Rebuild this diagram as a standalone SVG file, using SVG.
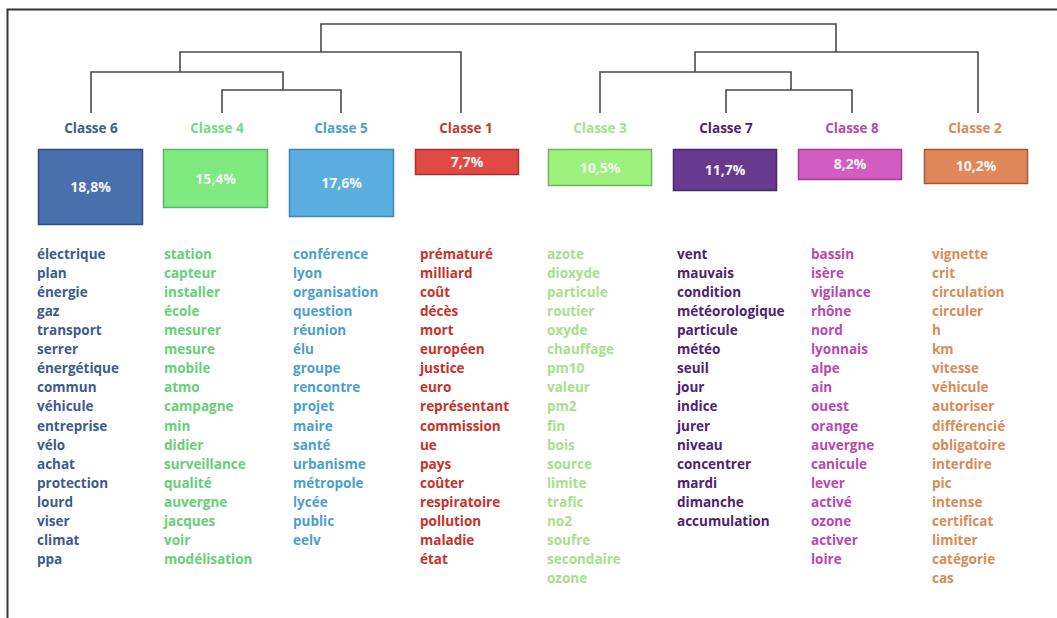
<svg xmlns="http://www.w3.org/2000/svg" width="1057" height="618" viewBox="0 0 1057 618">
<style>
.lbl{font-family:"Open Sans","Liberation Sans",sans-serif;font-weight:700;font-size:13.5px;text-anchor:middle}
.pct{font-family:"Open Sans","Liberation Sans",sans-serif;font-weight:700;font-size:14px;text-anchor:middle;fill:#f4f4f4}
.w{font-family:"Open Sans","Liberation Sans",sans-serif;font-weight:700;font-size:13.5px}
.ln{fill:none;stroke:#4a4a4a;stroke-width:1.6}
.box{stroke-width:1.5}
</style>
<rect width="1057" height="618" fill="#ffffff"/>
<path d="M7.5,618 V9.5 H1057" fill="none" stroke="#333" stroke-width="2"/>
<g id="connectors" class="ln">
<path d="M321,52 V24 H836 V52"/>
<path d="M180,72 V52 H461 V113"/>
<path d="M91,113 V72 H283 V90"/>
<path d="M222,113 V90 H341 V113"/>
<path d="M695,72 V52 H978 V113"/>
<path d="M600,113 V72 H791 V90"/>
<path d="M726,113 V90 H852 V113"/>
</g>
<g id="classe6">
<text class="lbl" x="91" y="133" fill="#3f5b8e">Classe 6</text>
<rect class="box" x="38.5" y="149.5" width="104" height="75" fill="#4a6fae" stroke="#2f4d7e"/>
<text class="pct" x="90.5" y="192">18,8%</text>
<text class="w" fill="#3e5a8f"><tspan x="37" y="259">électrique</tspan><tspan x="37" dy="19.06">plan</tspan><tspan x="37" dy="19.06">énergie</tspan><tspan x="37" dy="19.06">gaz</tspan><tspan x="37" dy="19.06">transport</tspan><tspan x="37" dy="19.06">serrer</tspan><tspan x="37" dy="19.06">énergétique</tspan><tspan x="37" dy="19.06">commun</tspan><tspan x="37" dy="19.06">véhicule</tspan><tspan x="37" dy="19.06">entreprise</tspan><tspan x="37" dy="19.06">vélo</tspan><tspan x="37" dy="19.06">achat</tspan><tspan x="37" dy="19.06">protection</tspan><tspan x="37" dy="19.06">lourd</tspan><tspan x="37" dy="19.06">viser</tspan><tspan x="37" dy="19.06">climat</tspan><tspan x="37" dy="19.06">ppa</tspan></text>
</g>
<g id="classe4">
<text class="lbl" x="217" y="133" fill="#6fdc88">Classe 4</text>
<rect class="box" x="163.5" y="149.5" width="104" height="58" fill="#7eea7f" stroke="#5cb565"/>
<text class="pct" x="215.5" y="184">15,4%</text>
<text class="w" fill="#66cf78"><tspan x="164" y="259">station</tspan><tspan x="164" dy="19.06">capteur</tspan><tspan x="164" dy="19.06">installer</tspan><tspan x="164" dy="19.06">école</tspan><tspan x="164" dy="19.06">mesurer</tspan><tspan x="164" dy="19.06">mesure</tspan><tspan x="164" dy="19.06">mobile</tspan><tspan x="164" dy="19.06">atmo</tspan><tspan x="164" dy="19.06">campagne</tspan><tspan x="164" dy="19.06">min</tspan><tspan x="164" dy="19.06">didier</tspan><tspan x="164" dy="19.06">surveillance</tspan><tspan x="164" dy="19.06">qualité</tspan><tspan x="164" dy="19.06">auvergne</tspan><tspan x="164" dy="19.06">jacques</tspan><tspan x="164" dy="19.06">voir</tspan><tspan x="164" dy="19.06">modélisation</tspan></text>
</g>
<g id="classe5">
<text class="lbl" x="341" y="133" fill="#4aa0cf">Classe 5</text>
<rect class="box" x="289.5" y="149.5" width="104" height="67" fill="#5aaee0" stroke="#3f86b5"/>
<text class="pct" x="341.5" y="188">17,6%</text>
<text class="w" fill="#4a9fcd"><tspan x="293" y="259">conférence</tspan><tspan x="293" dy="19.06">lyon</tspan><tspan x="293" dy="19.06">organisation</tspan><tspan x="293" dy="19.06">question</tspan><tspan x="293" dy="19.06">réunion</tspan><tspan x="293" dy="19.06">élu</tspan><tspan x="293" dy="19.06">groupe</tspan><tspan x="293" dy="19.06">rencontre</tspan><tspan x="293" dy="19.06">projet</tspan><tspan x="293" dy="19.06">maire</tspan><tspan x="293" dy="19.06">santé</tspan><tspan x="293" dy="19.06">urbanisme</tspan><tspan x="293" dy="19.06">métropole</tspan><tspan x="293" dy="19.06">lycée</tspan><tspan x="293" dy="19.06">public</tspan><tspan x="293" dy="19.06">eelv</tspan></text>
</g>
<g id="classe1">
<text class="lbl" x="466" y="133" fill="#c0392f">Classe 1</text>
<rect class="box" x="415.5" y="149.5" width="103" height="25" fill="#e04a45" stroke="#a8322e"/>
<text class="pct" x="467" y="167">7,7%</text>
<text class="w" fill="#c8302a"><tspan x="420" y="259">prématuré</tspan><tspan x="420" dy="19.06">milliard</tspan><tspan x="420" dy="19.06">coût</tspan><tspan x="420" dy="19.06">décès</tspan><tspan x="420" dy="19.06">mort</tspan><tspan x="420" dy="19.06">européen</tspan><tspan x="420" dy="19.06">justice</tspan><tspan x="420" dy="19.06">euro</tspan><tspan x="420" dy="19.06">représentant</tspan><tspan x="420" dy="19.06">commission</tspan><tspan x="420" dy="19.06">ue</tspan><tspan x="420" dy="19.06">pays</tspan><tspan x="420" dy="19.06">coûter</tspan><tspan x="420" dy="19.06">respiratoire</tspan><tspan x="420" dy="19.06">pollution</tspan><tspan x="420" dy="19.06">maladie</tspan><tspan x="420" dy="19.06">état</tspan></text>
</g>
<g id="classe3">
<text class="lbl" x="600" y="133" fill="#a3e38a">Classe 3</text>
<rect class="box" x="548.5" y="149.5" width="103" height="36" fill="#9df27d" stroke="#6fb35a"/>
<text class="pct" x="600" y="173">10,5%</text>
<text class="w" fill="#a6e08c"><tspan x="547" y="259">azote</tspan><tspan x="547" dy="19.06">dioxyde</tspan><tspan x="547" dy="19.06">particule</tspan><tspan x="547" dy="19.06">routier</tspan><tspan x="547" dy="19.06">oxyde</tspan><tspan x="547" dy="19.06">chauffage</tspan><tspan x="547" dy="19.06">pm10</tspan><tspan x="547" dy="19.06">valeur</tspan><tspan x="547" dy="19.06">pm2</tspan><tspan x="547" dy="19.06">fin</tspan><tspan x="547" dy="19.06">bois</tspan><tspan x="547" dy="19.06">source</tspan><tspan x="547" dy="19.06">limite</tspan><tspan x="547" dy="19.06">trafic</tspan><tspan x="547" dy="19.06">no2</tspan><tspan x="547" dy="19.06">soufre</tspan><tspan x="547" dy="19.06">secondaire</tspan><tspan x="547" dy="19.06">ozone</tspan></text>
</g>
<g id="classe7">
<text class="lbl" x="726" y="133" fill="#4a2472">Classe 7</text>
<rect class="box" x="673.5" y="149.5" width="103" height="41" fill="#673a8f" stroke="#4a2670"/>
<text class="pct" x="725" y="175">11,7%</text>
<text class="w" fill="#4a2472"><tspan x="677" y="259">vent</tspan><tspan x="677" dy="19.06">mauvais</tspan><tspan x="677" dy="19.06">condition</tspan><tspan x="677" dy="19.06">météorologique</tspan><tspan x="677" dy="19.06">particule</tspan><tspan x="677" dy="19.06">météo</tspan><tspan x="677" dy="19.06">seuil</tspan><tspan x="677" dy="19.06">jour</tspan><tspan x="677" dy="19.06">indice</tspan><tspan x="677" dy="19.06">jurer</tspan><tspan x="677" dy="19.06">niveau</tspan><tspan x="677" dy="19.06">concentrer</tspan><tspan x="677" dy="19.06">mardi</tspan><tspan x="677" dy="19.06">dimanche</tspan><tspan x="677" dy="19.06">accumulation</tspan></text>
</g>
<g id="classe8">
<text class="lbl" x="852" y="133" fill="#b548ae">Classe 8</text>
<rect class="box" x="798.5" y="149.5" width="103" height="30" fill="#d35cc2" stroke="#a23f95"/>
<text class="pct" x="850" y="169">8,2%</text>
<text class="w" fill="#b848b0"><tspan x="811" y="259">bassin</tspan><tspan x="811" dy="19.06">isère</tspan><tspan x="811" dy="19.06">vigilance</tspan><tspan x="811" dy="19.06">rhône</tspan><tspan x="811" dy="19.06">nord</tspan><tspan x="811" dy="19.06">lyonnais</tspan><tspan x="811" dy="19.06">alpe</tspan><tspan x="811" dy="19.06">ain</tspan><tspan x="811" dy="19.06">ouest</tspan><tspan x="811" dy="19.06">orange</tspan><tspan x="811" dy="19.06">auvergne</tspan><tspan x="811" dy="19.06">canicule</tspan><tspan x="811" dy="19.06">lever</tspan><tspan x="811" dy="19.06">activé</tspan><tspan x="811" dy="19.06">ozone</tspan><tspan x="811" dy="19.06">activer</tspan><tspan x="811" dy="19.06">loire</tspan></text>
</g>
<g id="classe2">
<text class="lbl" x="975" y="133" fill="#d98a57">Classe 2</text>
<rect class="box" x="924.5" y="149.5" width="103" height="34" fill="#e0885a" stroke="#9a5a38"/>
<text class="pct" x="976" y="171">10,2%</text>
<text class="w" fill="#d98a57"><tspan x="932" y="259">vignette</tspan><tspan x="932" dy="19.06">crit</tspan><tspan x="932" dy="19.06">circulation</tspan><tspan x="932" dy="19.06">circuler</tspan><tspan x="932" dy="19.06">h</tspan><tspan x="932" dy="19.06">km</tspan><tspan x="932" dy="19.06">vitesse</tspan><tspan x="932" dy="19.06">véhicule</tspan><tspan x="932" dy="19.06">autoriser</tspan><tspan x="932" dy="19.06">différencié</tspan><tspan x="932" dy="19.06">obligatoire</tspan><tspan x="932" dy="19.06">interdire</tspan><tspan x="932" dy="19.06">pic</tspan><tspan x="932" dy="19.06">intense</tspan><tspan x="932" dy="19.06">certificat</tspan><tspan x="932" dy="19.06">limiter</tspan><tspan x="932" dy="19.06">catégorie</tspan><tspan x="932" dy="19.06">cas</tspan></text>
</g>
</svg>
